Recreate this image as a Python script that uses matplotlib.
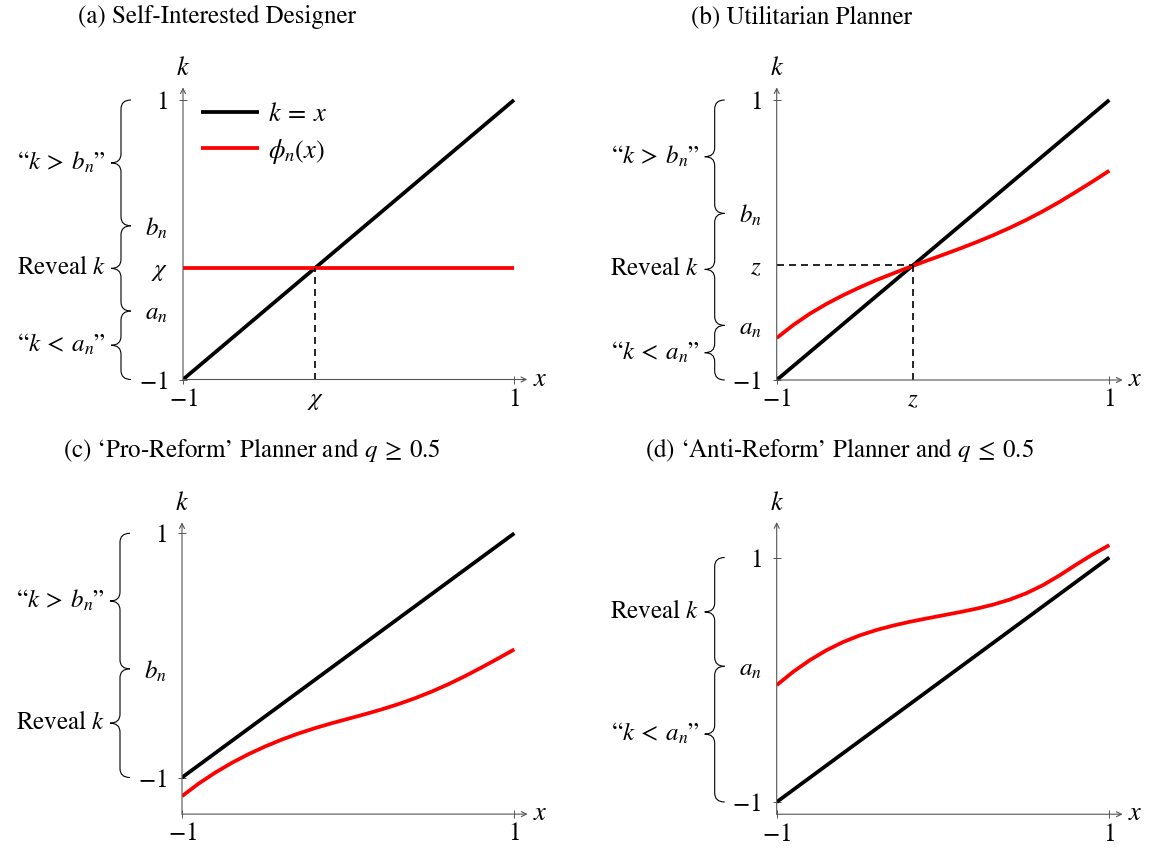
import matplotlib
matplotlib.use("Agg")
import matplotlib.pyplot as plt
from matplotlib.path import Path
from matplotlib.patches import PathPatch
from matplotlib.transforms import IdentityTransform

plt.rcParams['font.family'] = 'STIXGeneral'
plt.rcParams['mathtext.fontset'] = 'stix'

W, H = 1150, 856
FS = 18

# ---- values ----
chi = -0.2                  # panel (a) cutoff
b_a, a_a = 0.1, -0.51
z = -0.18                   # panel (b) fixed point
b_b, a_b = 0.19, -0.61
b_c = -0.11
a_d = 0.11

xs = [-1.0, -0.9, -0.8, -0.7, -0.6, -0.5, -0.4, -0.3, -0.2, -0.1, 0.0,
      0.1, 0.2, 0.3, 0.4, 0.5, 0.6, 0.7, 0.8, 0.9, 1.0]
phi_b = [-0.700, -0.607, -0.526, -0.456, -0.394, -0.338, -0.286, -0.239, -0.193, -0.149, -0.106,
         -0.062, -0.016, 0.033, 0.086, 0.143, 0.205, 0.272, 0.344, 0.418, 0.495]
phi_c = [-1.153, -1.050, -0.960, -0.880, -0.809, -0.746, -0.690, -0.640, -0.596, -0.556, -0.519,
         -0.482, -0.443, -0.400, -0.352, -0.298, -0.238, -0.172, -0.101, -0.027, 0.049]
phi_d = [-0.044, 0.066, 0.161, 0.242, 0.309, 0.363, 0.407, 0.443, 0.474, 0.501, 0.527,
         0.553, 0.581, 0.614, 0.655, 0.707, 0.773, 0.853, 0.941, 1.025, 1.101]

titles = ["(a) Self-Interested Designer",
          "(b) Utilitarian Planner",
          "(c) \u2018Pro-Reform\u2019 Planner and $q\\:\\geq\\:0.5$",
          "(d) \u2018Anti-Reform\u2019 Planner and $q\\:\\leq\\:0.5$"]
title_pos = [(217, 17), (802, 17), (252, 450), (839, 450)]

# pixel frames: x=-1, x=1, y=1, y=-1 ; plus y limits
frames = [(183, 514, 100, 379.5, (-1.0, 1.1)),
          (776.7, 1109.3, 100, 380, (-1.0, 1.1)),
          (182, 514.3, 533.3, 777.5, (-1.3, 1.1)),
          (776.7, 1109.3, 557.5, 802, (-1.1, 1.3))]

fig = plt.figure(figsize=(W / 100, H / 100), dpi=100)
axcol = '#555555'


def make_axes(fr):
    px0, px1, py1, pym1, (y0, y1) = fr
    sx = (px1 - px0) / 2
    sy = (pym1 - py1) / 2
    top = py1 - (y1 - 1) * sy
    bot = pym1 + (-1 - y0) * sy
    ax = fig.add_axes([px0 / W, 1 - bot / H, 2.1 * sx / W, (bot - top) / H])
    ax.set_xlim(-1, 1.1)
    ax.set_ylim(y0, y1)
    for s in ax.spines.values():
        s.set_visible(False)
    ax.patch.set_visible(False)
    arr = dict(arrowstyle='->', lw=0.8, color=axcol, shrinkA=0, shrinkB=0, mutation_scale=9)
    ax.annotate('', xy=(1.08, y0), xytext=(-1, y0), arrowprops=arr, annotation_clip=False)
    ax.annotate('', xy=(-1, y1 - 0.01), xytext=(-1, y0), arrowprops=arr, annotation_clip=False)
    ax.annotate('$k$', xy=(-1, y1), xytext=(0, 17), textcoords='offset pixels',
                ha='center', va='center', fontsize=FS + 1, annotation_clip=False)
    ax.annotate('$x$', xy=(1.08, y0), xytext=(13, 0), textcoords='offset pixels',
                ha='center', va='center', fontsize=FS + 1, annotation_clip=False)
    ax.tick_params(direction='inout', length=6, width=0.7, color=axcol, labelsize=FS)
    ax.tick_params(axis='y', pad=8)
    ax.tick_params(axis='x', pad=3)
    return ax


def set_ticks(ax, axis, vals, labels):
    a = ax.xaxis if axis == 'x' else ax.yaxis
    a.set_ticks(vals, labels)
    for v, t in zip(vals, a.get_major_ticks()):
        if abs(abs(v) - 1) > 1e-9:
            t.tick1line.set_visible(False)


def brace(ax, ytop, ybot, label):
    p1 = ax.transData.transform((-1, ytop))
    p2 = ax.transData.transform((-1, ybot))
    xe = p1[0] - 52
    xm, xt = xe - 10, xe - 20
    yt, yb = p1[1], p2[1]
    ym = (yt + yb) / 2
    r = 9
    verts = [(xe, yt), (xm, yt), (xm, yt - r), (xm, ym + r), (xm, ym), (xt, ym),
             (xm, ym), (xm, ym - r), (xm, yb + r), (xm, yb), (xe, yb)]
    codes = [Path.MOVETO, Path.CURVE3, Path.CURVE3, Path.LINETO, Path.CURVE3, Path.CURVE3,
             Path.CURVE3, Path.CURVE3, Path.LINETO, Path.CURVE3, Path.CURVE3]
    fig.add_artist(PathPatch(Path(verts, codes), transform=IdentityTransform(),
                             fc='none', ec='black', lw=0.8))
    ax.annotate(label, xy=(-1, (ytop + ybot) / 2), xytext=(-77, 0), textcoords='offset pixels',
                ha='right', va='center', fontsize=FS, annotation_clip=False)


axes = [make_axes(fr) for fr in frames]
for (tx, ty), t in zip(title_pos, titles):
    fig.text(tx / W, 1 - ty / H, t, ha='center', va='center', fontsize=FS)

gt = '\u201c$k\\:>\\:b_n$\u201d'
lt = '\u201c$k\\:<\\:a_n$\u201d'
rv = 'Reveal $k$'
lw = 2.7

# (a)
ax = axes[0]
ax.plot([-1, 1], [-1, 1], color='black', lw=lw, label='$k\\:=\\:x$', solid_capstyle='butt')
ax.plot([-1, 1], [chi, chi], color='red', lw=lw, label='$\\phi_n(x)$', solid_capstyle='butt')
ax.plot([chi, chi], [-1, chi], color='black', lw=1.2, dashes=(4.2, 3))
set_ticks(ax, 'x', [-1, chi, 1], ['$-1$', '$\\chi$', '$1$'])
set_ticks(ax, 'y', [-1, a_a, chi, b_a, 1], ['$-1$', '$a_n$', '$\\chi$', '$b_n$', '$1$'])
brace(ax, 1, b_a, gt)
brace(ax, b_a, a_a, rv)
brace(ax, a_a, -1, lt)
ax.legend(loc='upper left', bbox_to_anchor=(201 / W, 1 - 103 / H), bbox_transform=fig.transFigure,
          frameon=False, borderpad=0, borderaxespad=0, handlelength=2.2, handletextpad=0.35,
          labelspacing=0.35, fontsize=FS + 1)

# (b)
ax = axes[1]
ax.plot([-1, 1], [-1, 1], color='black', lw=lw, solid_capstyle='butt')
ax.plot(xs, phi_b, color='red', lw=lw, solid_capstyle='butt')
ax.plot([-1, z], [z, z], color='black', lw=1.2, dashes=(4.2, 3))
ax.plot([z, z], [-1, z], color='black', lw=1.2, dashes=(4.2, 3))
set_ticks(ax, 'x', [-1, z, 1], ['$-1$', '$z$', '$1$'])
set_ticks(ax, 'y', [-1, a_b, z, b_b, 1], ['$-1$', '$a_n$', '$z$', '$b_n$', '$1$'])
brace(ax, 1, b_b, gt)
brace(ax, b_b, a_b, rv)
brace(ax, a_b, -1, lt)

# (c)
ax = axes[2]
ax.plot([-1, 1], [-1, 1], color='black', lw=lw, solid_capstyle='butt')
ax.plot(xs, phi_c, color='red', lw=lw, solid_capstyle='butt')
set_ticks(ax, 'x', [-1, 1], ['$-1$', '$1$'])
set_ticks(ax, 'y', [-1, b_c, 1], ['$-1$', '$b_n$', '$1$'])
brace(ax, 1, b_c, gt)
brace(ax, b_c, -1, rv)

# (d)
ax = axes[3]
ax.plot([-1, 1], [-1, 1], color='black', lw=lw, solid_capstyle='butt')
ax.plot(xs, phi_d, color='red', lw=lw, solid_capstyle='butt')
set_ticks(ax, 'x', [-1, 1], ['$-1$', '$1$'])
set_ticks(ax, 'y', [-1, a_d, 1], ['$-1$', '$a_n$', '$1$'])
brace(ax, 1, a_d, rv)
brace(ax, a_d, -1, lt)

fig.savefig('out.png', dpi=100)
